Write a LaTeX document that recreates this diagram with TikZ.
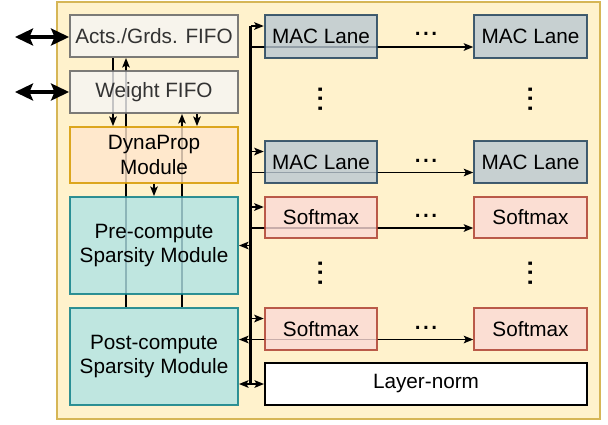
\documentclass[tikz,border=0pt]{standalone}
\usepackage{fontspec}
\setmainfont{Liberation Sans}
\usetikzlibrary{positioning,arrows.meta,calc,backgrounds}
\definecolor{frameFill}{HTML}{FFF2CC}
\definecolor{frameDraw}{HTML}{D6B656}
\definecolor{fifoFill}{HTML}{F5F5F5}
\definecolor{fifoDraw}{HTML}{666666}
\definecolor{fifoText}{HTML}{333333}
\definecolor{dynaFill}{HTML}{FFE6CC}
\definecolor{dynaDraw}{HTML}{D79B00}
\definecolor{spFill}{HTML}{B0E3E6}
\definecolor{spDraw}{HTML}{0E8088}
\definecolor{macFill}{HTML}{BAC8D3}
\definecolor{macDraw}{HTML}{23445D}
\definecolor{smFill}{HTML}{FAD9D5}
\definecolor{smDraw}{HTML}{AE4132}
\tikzset{
  block/.style={draw,line width=1.1pt,fill opacity=0.8,draw opacity=0.85,text opacity=1,align=center,inner sep=1pt,font=\fontsize{11.8}{13.8}\selectfont},
  fifo/.style={block,fill=fifoFill,draw=fifoDraw,text=fifoText,minimum width=3.36cm,minimum height=0.84cm},
  dynabox/.style={block,fill=dynaFill,draw=dynaDraw,minimum width=3.36cm,minimum height=1.12cm},
  sparse/.style={block,fill=spFill,draw=spDraw,minimum width=3.36cm,minimum height=1.94cm},
  lane/.style={block,fill=macFill,draw=macDraw,minimum width=2.25cm,minimum height=0.85cm},
  softbox/.style={block,fill=smFill,draw=smDraw,minimum width=2.25cm,minimum height=0.83cm},
  normbox/.style={block,fill=white,draw=black,fill opacity=1,draw opacity=1,minimum width=6.44cm,minimum height=0.84cm},
  link/.style={line width=1pt,draw=black},
  feed/.style={link,-{Stealth[length=1.9mm,width=1.5mm,inset=0.4mm]}},
  both/.style={link,{Stealth[length=1.9mm,width=1.5mm,inset=0.4mm]}-{Stealth[length=1.9mm,width=1.5mm,inset=0.4mm]}},
  host/.style={line width=1.9pt,{Stealth[length=3.6mm,width=3.4mm,inset=0.7mm]}-{Stealth[length=3.6mm,width=3.4mm,inset=0.7mm]}},
  bus/.style={line width=1.6pt,draw=black},
  hdots/.style={inner sep=0pt,anchor=base,font=\fontsize{17}{17}\selectfont},
  vdots/.style={hdots,rotate=90,font=\fontsize{19.5}{19.5}\selectfont}
}
\begin{document}
\begin{tikzpicture}[x=0.02cm,y=-0.02cm]
\useasboundingbox (0,0) rectangle (608,424);

% left column
\node[fifo] (acts) at (154,36) {Acts./Grds. FIFO};
\node[fifo] (wfifo) at (154,92) {Weight FIFO};
\node[dynabox] (dyna) at (154,155) {DynaProp\\Module};
\node[sparse] (pre) at (154,245.5) {Pre-compute\\Sparsity Module};
\node[sparse] (post) at (154,356.5) {Post-compute\\Sparsity Module};

% lanes
\node[lane] (macA) at (321,36.5) {MAC Lane};
\node[lane] (macAR) at (530.5,36.5) {MAC Lane};
\node[lane] (macB) at (321,162) {MAC Lane};
\node[lane] (macBR) at (530.5,162) {MAC Lane};
\node[softbox] (smA) at (321,217.5) {Softmax};
\node[softbox] (smAR) at (530.5,217.5) {Softmax};
\node[softbox] (smB) at (321,329) {Softmax};
\node[softbox] (smBR) at (530.5,329) {Softmax};
\node[normbox] (ln) at (426,384) {Layer-norm};

\node[hdots] (dA) at (426,35) {...};
\node[hdots] (dB) at (426,162) {...};
\node[hdots] (dC) at (426,217) {...};
\node[hdots] (dD) at (426,329) {...};
\node[vdots] (vA) at (322,99) {...};
\node[vdots] (vB) at (532,99) {...};
\node[vdots] (vC) at (322,273) {...};
\node[vdots] (vD) at (532,273) {...};

\coordinate (c1) at (113,0);
\coordinate (c2) at (126,0);
\coordinate (c4) at (182,0);
\coordinate (c5) at (197,0);
\coordinate (busTop) at ($(macA.west)+(-13,-10.5)$);
\coordinate (smBo) at ($(smB.west)+(0,10.5)$);
\coordinate (hostA) at (15,37);
\coordinate (hostB) at (15,92);

\begin{scope}[on background layer]
\draw[frameDraw,fill=frameFill,line width=1.5pt] (57,2) rectangle (600,419);
\draw[feed] (acts.south -| c1) -- (dyna.north -| c1);
\draw[feed] (post.north -| c2) -- (acts.south -| c2);
\draw[feed] (dyna.south) -- (pre.north);
\draw[feed] (post.north -| c4) -- (wfifo.south -| c4);
\draw[feed] (wfifo.south -| c5) -- (dyna.north -| c5);

% bus
\draw[bus] (busTop) -- (busTop |- ln.west);
\foreach \n in {macA,macB,smA,smB}
  \draw[feed] ($(\n.west)+(-13,-10.5)$) -- ($(\n.west)+(0,-10.5)$);
\foreach \src/\dst in {macA/macAR,macB/macBR,smA/smAR}
  \draw[feed] ($(\src.west)+(-13,10.5)$) -- ($(\dst.west)+(0,10.5)$);
\draw[both] (post.east |- smBo) -- (smBR.west |- smBo);
\draw[feed] (busTop |- pre.east) -- (pre.east);
\draw[both] (post.east |- ln.west) -- (ln.west);
\end{scope}

\draw[host] (hostA) -- (acts.west |- hostA);
\draw[host] (hostB) -- (wfifo.west);
\end{tikzpicture}
\end{document}
